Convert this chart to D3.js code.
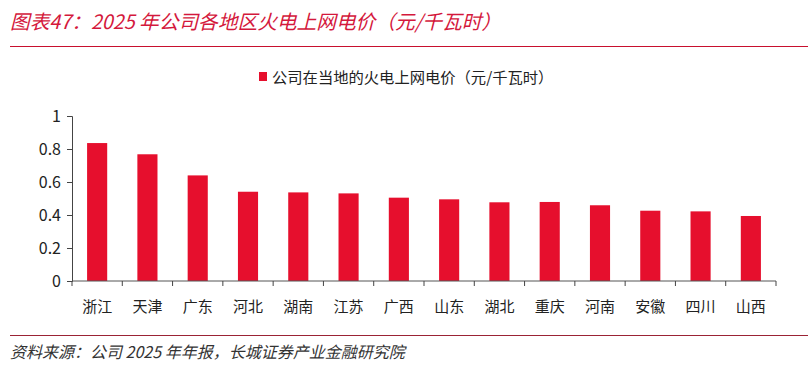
<!DOCTYPE html>
<html><head><meta charset="utf-8">
<script src="https://cdn.jsdelivr.net/npm/d3@7"></script>
<style>body{margin:0;background:#fff}svg{display:block}</style>
</head><body>
<svg id="c" width="812" height="369"></svg>
<script>
const categories = ["浙江","天津","广东","河北","湖南","江苏","广西","山东","湖北","重庆","河南","安徽","四川","山西"];
const values = [0.836,0.768,0.640,0.541,0.537,0.531,0.505,0.495,0.477,0.479,0.459,0.426,0.422,0.394];
const yTicks = [0,0.2,0.4,0.6,0.8,1];
const seriesName = "公司在当地的火电上网电价（元/千瓦时）";
const titleText = "图表47：2025 年公司各地区火电上网电价（元/千瓦时）";
const sourceText = "资料来源：公司 2025 年年报，长城证券产业金融研究院";

const svg = d3.select("#c");
const font = "'Noto Sans CJK SC','Noto Sans',sans-serif";
const red = "#e60f2d";

svg.append("text").attr("x",10).attr("y",29).attr("font-family",font).attr("font-size",19.7)
  .attr("font-style","italic").attr("fill","#d4183c").text(titleText);
svg.append("line").attr("x1",10).attr("x2",808).attr("y1",46.5).attr("y2",46.5).attr("stroke","#c8102e").attr("stroke-width",1);

const x = d3.scaleBand().domain(categories).range([72,776]).paddingInner(0.6).paddingOuter(0.3);
const y = d3.scaleLinear().domain([0,1]).range([281,116]);

// legend
svg.append("rect").attr("x",259).attr("y",72).attr("width",8).attr("height",9).attr("fill",red);
svg.append("text").attr("x",272).attr("y",82.5).attr("font-family",font).attr("font-size",15.3).attr("fill","#222").text(seriesName);

svg.selectAll("rect.bar").data(values).join("rect").attr("class","bar")
  .attr("x",(d,i)=>x(categories[i])).attr("width",x.bandwidth())
  .attr("y",d=>y(d)).attr("height",d=>y(0)-y(d)).attr("fill",red);

const yAxis = svg.append("g").attr("transform","translate(72,0)")
  .call(d3.axisLeft(y).tickValues(yTicks).tickFormat(d3.format("")).tickSize(5).tickPadding(6));
yAxis.select(".domain").attr("stroke","#444");
yAxis.selectAll(".tick line").attr("stroke","#444");
yAxis.selectAll("text").attr("font-family",font).attr("font-size",16).attr("fill","#222");

const xb = d3.scaleLinear().domain([0,categories.length]).range([72,776]);
const xAxis = svg.append("g").attr("transform","translate(0,281)");
xAxis.append("line").attr("x1",72).attr("x2",776).attr("stroke","#555").attr("stroke-width",1);
xAxis.selectAll("line.t").data(d3.range(categories.length+1)).join("line").attr("class","t")
  .attr("x1",d=>xb(d)).attr("x2",d=>xb(d)).attr("y1",0).attr("y2",5).attr("stroke","#444");
xAxis.selectAll("text").data(categories).join("text")
  .attr("x",d=>x(d)+x.bandwidth()/2).attr("y",31).attr("text-anchor","middle")
  .attr("font-family",font).attr("font-size",15).attr("fill","#222").text(d=>d);

svg.append("line").attr("x1",10).attr("x2",808).attr("y1",335.5).attr("y2",335.5).attr("stroke","#9b2335").attr("stroke-width",1);
svg.append("text").attr("x",10).attr("y",358).attr("font-family",font).attr("font-size",16)
  .attr("font-style","italic").attr("fill","#333").text(sourceText);
</script>
</body></html>
